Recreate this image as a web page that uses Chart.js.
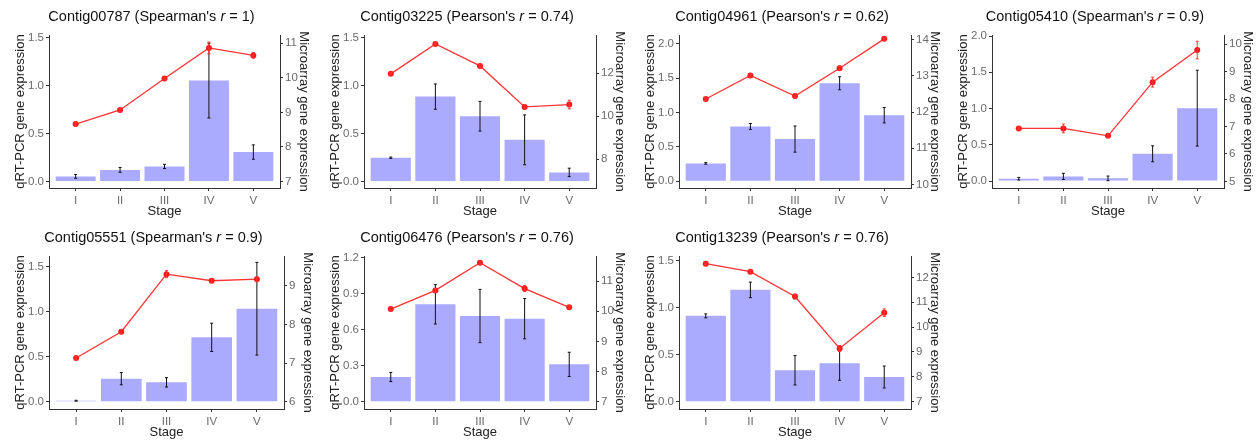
<!DOCTYPE html>
<html>
<head>
<meta charset="utf-8">
<script src="https://cdn.jsdelivr.net/npm/chart.js@4"></script>
<style>
html, body { margin: 0; padding: 0; background: #fff; overflow: hidden; }
#wrap { position: relative; width: 1258px; height: 440px; }
#wrap canvas { position: absolute; }
</style>
</head>
<body>
<div id="wrap"></div>
<script>
// data
const stages = ['I', 'II', 'III', 'IV', 'V'];
const contigs = ['Contig00787', 'Contig03225', 'Contig04961', 'Contig05410', 'Contig05551', 'Contig06476', 'Contig13239'];
const methods = ['Spearman', 'Pearson', 'Pearson', 'Spearman', 'Spearman', 'Pearson', 'Pearson'];
const rValues = ['1', '0.74', '0.62', '0.9', '0.9', '0.76', '0.76'];

// qRT-PCR (bars, left axis)
const qpcrMean = [
    [0.052, 0.12, 0.156, 1.052, 0.306],
    [0.247, 0.885, 0.68, 0.434, 0.094],
    [0.26, 0.797, 0.614, 1.425, 0.961],
    [0.032, 0.064, 0.037, 0.376, 1.005],
    [0.011, 0.256, 0.215, 0.715, 1.033],
    [0.206, 0.811, 0.714, 0.692, 0.311],
    [0.915, 1.192, 0.335, 0.409, 0.263]
];
const qpcrErr = [
    [0.02, 0.025, 0.022, 0.39, 0.075],
    [0.007, 0.132, 0.155, 0.26, 0.044],
    [0.012, 0.043, 0.19, 0.095, 0.112],
    [0.018, 0.043, 0.032, 0.11, 0.523],
    [0.005, 0.068, 0.052, 0.157, 0.515],
    [0.038, 0.164, 0.222, 0.168, 0.101],
    [0.021, 0.083, 0.157, 0.181, 0.117]
];

// microarray (red line, right axis)
const arrayMean = [
    [8.66, 9.07, 9.98, 10.865, 10.65],
    [11.97, 13.36, 12.34, 10.43, 10.54],
    [12.36, 13.01, 12.44, 13.21, 14.02],
    [6.93, 6.93, 6.66, 8.62, 9.79],
    [7.13, 7.81, 9.30, 9.13, 9.17],
    [10.07, 10.69, 11.61, 10.75, 10.13],
    [12.55, 12.23, 11.23, 9.14, 10.58]
];
const arrayErr = [
    [0.05, 0.04, 0.04, 0.17, 0.08],
    [0.05, 0.05, 0.06, 0.1, 0.2],
    [0.04, 0.04, 0.06, 0.06, 0.04],
    [0.06, 0.16, 0.06, 0.18, 0.32],
    [0.04, 0.05, 0.09, 0.05, 0.06],
    [0.04, 0.06, 0.05, 0.1, 0.05],
    [0.04, 0.06, 0.1, 0.12, 0.15]
];

// axis ticks and limits
const leftTicks = [
    [0, 0.5, 1, 1.5], [0, 0.5, 1, 1.5], [0, 0.5, 1, 1.5, 2], [0, 0.5, 1, 1.5, 2],
    [0, 0.5, 1, 1.5], [0, 0.3, 0.6, 0.9, 1.2], [0, 0.5, 1, 1.5]
];
const rightTicks = [
    [7, 8, 9, 10, 11], [8, 10, 12], [10, 11, 12, 13, 14], [5, 6, 7, 8, 9, 10],
    [6, 7, 8, 9], [7, 8, 9, 10, 11], [7, 8, 9, 10, 11, 12]
];
const leftRange = [
    [-0.069, 1.528], [-0.069, 1.528], [-0.097, 2.126], [-0.096, 2.014],
    [-0.081, 1.619], [-0.061, 1.214], [-0.078, 1.553]
];
const rightRange = [
    [6.81, 11.24], [6.65, 13.78], [9.903, 14.126], [4.757, 10.34],
    [5.81, 9.77], [6.76, 11.83], [6.705, 12.86]
];

// plot panel boxes on the page: left, right, top, bottom
const areas = [
    [49, 280, 35, 188], [364, 596, 35, 188], [679, 911, 35, 188], [992, 1224, 35, 188],
    [49, 284, 256, 409], [364, 596, 256, 409], [679, 911, 256, 409]
];

Chart.defaults.font.family = '"Liberation Sans", Arial, sans-serif';

const FONT = '"Liberation Sans", Arial, sans-serif';
const PAD_L = 36, PAD_R = 31, PAD_T = 35, PAD_B = 31;

// title with an italic r
const titlePlugin = {
    id: 'rtitle',
    afterDraw(chart, args, opts) {
        const ctx = chart.ctx;
        const parts = [
            { t: opts.before, f: '14.5px ' + FONT },
            { t: 'r', f: 'italic 14.5px ' + FONT },
            { t: opts.after, f: '14.5px ' + FONT }
        ];
        ctx.save();
        let total = 0;
        parts.forEach(p => { ctx.font = p.f; p.w = ctx.measureText(p.t).width; total += p.w; });
        let x = opts.x - total / 2;
        ctx.fillStyle = '#111';
        ctx.textBaseline = 'middle';
        ctx.textAlign = 'left';
        parts.forEach(p => { ctx.font = p.f; ctx.fillText(p.t, x, opts.y); x += p.w; });
        ctx.restore();
    }
};

// error bars drawn right after their own dataset
const errorPlugin = {
    id: 'errbars',
    afterDatasetDraw(chart, args) {
        const ds = chart.data.datasets[args.index];
        if (!ds.errors) return;
        const xs = chart.scales[args.meta.xAxisID];
        const ys = chart.scales[args.meta.yAxisID];
        const ctx = chart.ctx;
        ctx.save();
        ctx.strokeStyle = ds.errorColor;
        ctx.lineWidth = 1;
        ds.data.forEach((d, i) => {
            const e = ds.errors[i];
            const x = xs.getPixelForValue(d.x);
            const y0 = ys.getPixelForValue(d.y - e);
            const y1 = ys.getPixelForValue(d.y + e);
            ctx.beginPath();
            ctx.moveTo(x, y0); ctx.lineTo(x, y1);
            ctx.moveTo(x - 1.5, y0); ctx.lineTo(x + 1.5, y0);
            ctx.moveTo(x - 1.5, y1); ctx.lineTo(x + 1.5, y1);
            ctx.stroke();
        });
        ctx.restore();
    }
};

const wrap = document.getElementById('wrap');

function axisStyle() {
    return {
        border: { display: true, color: '#333', width: 1 },
        grid: { display: true, drawOnChartArea: false, drawTicks: true, tickLength: 3, color: '#333', offset: false },
        ticks: { color: '#6a6a6a', font: { size: 11.5 }, padding: 2, maxRotation: 0, autoSkip: false }
    };
}

areas.forEach((a, k) => {
    const [L, R, T, B] = a;
    const w = R - L + PAD_L + PAD_R;
    const h = B - T + PAD_T + PAD_B;
    const cv = document.createElement('canvas');
    cv.width = w; cv.height = h;
    cv.style.left = (L - PAD_L) + 'px';
    cv.style.top = (T - PAD_T) + 'px';
    cv.style.width = w + 'px';
    cv.style.height = h + 'px';
    wrap.appendChild(cv);

    const xAxis = axisStyle();
    Object.assign(xAxis, {
        type: 'linear', min: 0.4, max: 5.6, offset: false,
        afterBuildTicks: s => { s.ticks = stages.map((_, i) => ({ value: i + 1 })); },
        afterFit: s => { s.height = PAD_B; },
        title: { display: true, text: 'Stage', color: '#222', font: { size: 13 }, padding: 0 }
    });
    xAxis.ticks.callback = v => stages[v - 1];
    xAxis.ticks.padding = 3;

    const yAxis = axisStyle();
    Object.assign(yAxis, {
        type: 'linear', position: 'left', min: leftRange[k][0], max: leftRange[k][1],
        afterBuildTicks: s => { s.ticks = leftTicks[k].map(v => ({ value: v })); },
        afterFit: s => { s.width = PAD_L; },
        title: { display: true, text: 'qRT-PCR gene expression', color: '#222', font: { size: 13 }, padding: 0 }
    });
    yAxis.ticks.callback = v => v.toFixed(1);

    const y1Axis = axisStyle();
    Object.assign(y1Axis, {
        type: 'linear', position: 'right', min: rightRange[k][0], max: rightRange[k][1],
        afterBuildTicks: s => { s.ticks = rightTicks[k].map(v => ({ value: v })); },
        afterFit: s => { s.width = PAD_R; },
        title: { display: true, text: 'Microarray gene expression', color: '#222', font: { size: 13 }, padding: 0 }
    });
    y1Axis.ticks.callback = v => String(v);

    new Chart(cv, {
        type: 'bar',
        data: {
            datasets: [{
                type: 'bar',
                label: 'qRT-PCR',
                data: qpcrMean[k].map((v, i) => ({ x: i + 1, y: v })),
                errors: qpcrErr[k],
                errorColor: '#111',
                backgroundColor: '#AAAAFF',
                borderWidth: 0,
                categoryPercentage: 1,
                barPercentage: 0.9,
                yAxisID: 'y',
                order: 2
            }, {
                type: 'line',
                label: 'Microarray',
                data: arrayMean[k].map((v, i) => ({ x: i + 1, y: v })),
                errors: arrayErr[k],
                errorColor: '#FF3333',
                borderColor: '#FF3333',
                borderWidth: 1.3,
                pointRadius: 3,
                pointBackgroundColor: '#FF1A1A',
                pointBorderWidth: 0,
                tension: 0,
                yAxisID: 'y1',
                order: 1
            }]
        },
        options: {
            responsive: false,
            animation: false,
            layout: { padding: { top: PAD_T, left: 0, right: 0, bottom: 0 } },
            plugins: {
                legend: { display: false },
                tooltip: { enabled: false },
                rtitle: {
                    before: contigs[k] + ' (' + methods[k] + "'s ",
                    after: ' = ' + rValues[k] + ')',
                    x: PAD_L + (R - L) / 2 - 13,
                    y: 17
                }
            },
            scales: { x: xAxis, y: yAxis, y1: y1Axis }
        },
        plugins: [titlePlugin, errorPlugin]
    });
});
</script>
</body>
</html>
